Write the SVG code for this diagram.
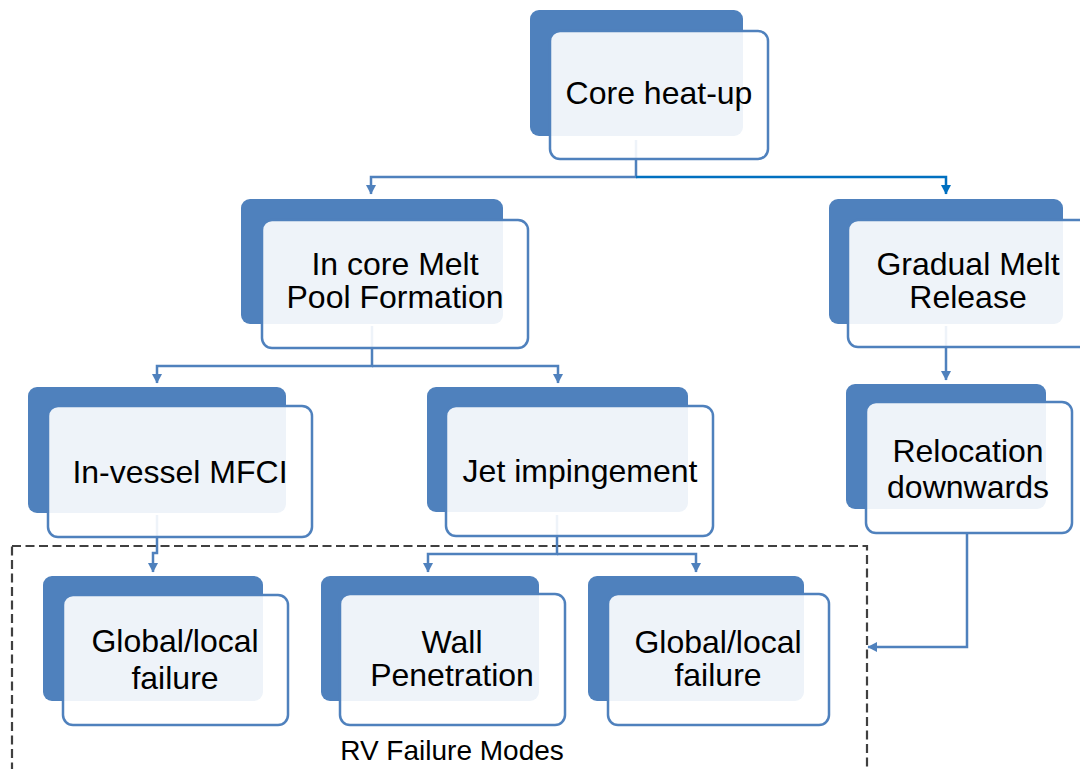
<svg xmlns="http://www.w3.org/2000/svg" width="1080" height="769" viewBox="0 0 1080 769">
<defs>
<style>
.bg{fill:#4F81BD}
.fr{fill:#FFFFFF;fill-opacity:0.9;stroke:#4F81BD;stroke-width:2.5}
.t{font-family:"Liberation Sans",Arial,sans-serif;font-size:32px;fill:#000;text-anchor:middle}
.lbl{font-family:"Liberation Sans",Arial,sans-serif;font-size:28px;fill:#000;text-anchor:middle}
.c{fill:none;stroke:#4F81BD;stroke-width:2.5}
.c2{fill:none;stroke:#0070C0;stroke-width:2.5}
.dash{fill:none;stroke:#404040;stroke-width:2.2;stroke-dasharray:9 4.5}
</style>
<marker id="ah" markerUnits="userSpaceOnUse" markerWidth="10" markerHeight="11" refX="9" refY="5.5" orient="auto" viewBox="0 0 10 11">
<path d="M0,0.5 L9.5,5.5 L0,10.5 z" fill="#4F81BD"/>
</marker>
<marker id="ah2" markerUnits="userSpaceOnUse" markerWidth="10" markerHeight="11" refX="9" refY="5.5" orient="auto" viewBox="0 0 10 11">
<path d="M0,0.5 L9.5,5.5 L0,10.5 z" fill="#0070C0"/>
</marker>
</defs>
<rect width="1080" height="769" fill="#FFFFFF"/>
<g id="group-box">
<rect class="dash" x="12" y="546" width="855" height="250"/>
<text class="lbl" x="452" y="760">RV Failure Modes</text>
</g>
<g id="connectors">
<path class="c" d="M636,140 V177 H371 V194" marker-end="url(#ah)"/>
<path class="c2" d="M636,177 H946 V194" marker-end="url(#ah2)"/>
<path class="c" d="M372,326 V366 H157 V383" marker-end="url(#ah)"/>
<path class="c" d="M372,366 H558 V383" marker-end="url(#ah)"/>
<path class="c" d="M946,326 V380" marker-end="url(#ah)"/>
<path class="c" d="M157,515 V553 H153 V572" marker-end="url(#ah)"/>
<path class="c" d="M557,515 V554 H428 V572" marker-end="url(#ah)"/>
<path class="c" d="M557,554 H696 V572" marker-end="url(#ah)"/>
<path class="c" d="M967,533 V647 H868" marker-end="url(#ah)"/>
</g>
<g id="core-heat-up">
<rect class="bg" x="530" y="10" width="213" height="126" rx="9"/>
<rect class="fr" x="550" y="31" width="218" height="128" rx="10"/>
<text class="t" x="659" y="104">Core heat-up</text>
</g>
<g id="in-core-melt">
<rect class="bg" x="241" y="199" width="262" height="125" rx="9"/>
<rect class="fr" x="262" y="220" width="266" height="128" rx="10"/>
<text class="t" x="395" y="275">In core Melt</text>
<text class="t" x="395" y="308">Pool Formation</text>
</g>
<g id="gradual-melt">
<rect class="bg" x="829" y="199" width="234" height="125" rx="9"/>
<rect class="fr" x="848" y="220" width="250" height="127" rx="10"/>
<text class="t" x="968" y="275">Gradual Melt</text>
<text class="t" x="968" y="308">Release</text>
</g>
<g id="in-vessel-mfci">
<rect class="bg" x="28" y="387" width="258" height="126" rx="9"/>
<rect class="fr" x="48" y="406" width="264" height="131" rx="10"/>
<text class="t" x="180" y="483">In-vessel MFCI</text>
</g>
<g id="jet-impingement">
<rect class="bg" x="427" y="387" width="261" height="125" rx="9"/>
<rect class="fr" x="446" y="406" width="267" height="130" rx="10"/>
<text class="t" x="580" y="482">Jet impingement</text>
</g>
<g id="relocation">
<rect class="bg" x="846" y="384" width="200" height="125" rx="9"/>
<rect class="fr" x="866" y="402" width="206" height="131" rx="10"/>
<text class="t" x="968" y="462">Relocation</text>
<text class="t" x="968" y="498">downwards</text>
</g>
<g id="global-local-1">
<rect class="bg" x="43" y="576" width="220" height="125" rx="9"/>
<rect class="fr" x="63" y="595" width="225" height="130" rx="10"/>
<text class="t" x="175" y="652">Global/local</text>
<text class="t" x="175" y="689">failure</text>
</g>
<g id="wall-penetration">
<rect class="bg" x="321" y="576" width="218" height="125" rx="9"/>
<rect class="fr" x="340" y="594" width="225" height="131" rx="10"/>
<text class="t" x="452" y="653">Wall</text>
<text class="t" x="452" y="686">Penetration</text>
</g>
<g id="global-local-2">
<rect class="bg" x="588" y="576" width="216" height="125" rx="9"/>
<rect class="fr" x="608" y="594" width="221" height="131" rx="10"/>
<text class="t" x="718" y="653">Global/local</text>
<text class="t" x="718" y="686">failure</text>
</g>
</svg>
